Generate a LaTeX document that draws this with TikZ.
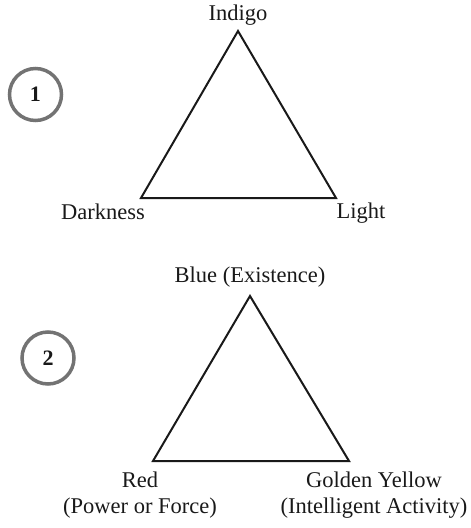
\documentclass[tikz,border=0pt]{standalone}
\usepackage{fontspec}
\setmainfont{Liberation Serif}
\begin{document}
\begin{tikzpicture}[x=1pt,y=-1pt,
  lbl/.style={font=\fontsize{22.5}{26}\selectfont, text=black!90, inner sep=0pt, align=center},
  tri/.style={draw=black!90, line width=2pt, line join=miter},
  numcirc/.style={circle, draw=black!55, line width=3.5pt, minimum size=52pt, inner sep=0pt, font=\fontsize{22}{26}\selectfont\bfseries, text=black!90}]
\useasboundingbox (0,0) rectangle (471,528);
% diagram 1
\coordinate (a1) at (238,31);
\coordinate (b1) at (141,198);
\coordinate (c1) at (336,198);
\draw[tri] (a1) -- (b1) -- (c1) -- cycle;
\node[lbl] (indigo) at (238,15) {Indigo};
\node[lbl] (dark) at (103,212) {Darkness};
\node[lbl] (light) at (361,213) {Light};
\node[numcirc] (n1) at (35.5,94.5) {1};
% diagram 2
\coordinate (a2) at (250,296);
\coordinate (b2) at (153,461);
\coordinate (c2) at (349,461);
\draw[tri] (a2) -- (b2) -- (c2) -- cycle;
\node[lbl] (blue) at (250,277) {Blue (Existence)};
\node[lbl] (red) at (140,495) {Red\\(Power or Force)};
\node[lbl] (gold) at (374,495) {Golden Yellow\\(Intelligent Activity)};
\node[numcirc] (n2) at (48,358) {2};
\end{tikzpicture}
\end{document}
